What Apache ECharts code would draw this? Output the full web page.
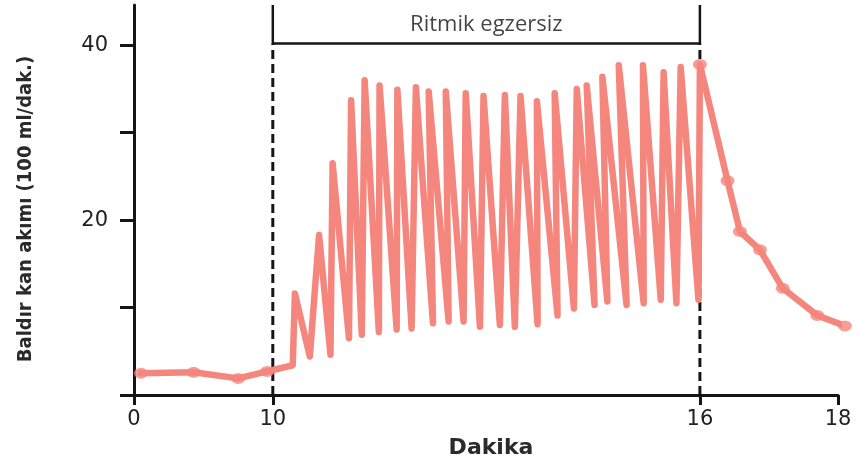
<!DOCTYPE html>
<html>
<head>
<meta charset="utf-8">
<script src="https://cdn.jsdelivr.net/npm/echarts@6/dist/echarts.min.js"></script>
<style>
  html, body { margin: 0; padding: 0; background: #fff; }
  #chart { width: 862px; height: 469px; }
</style>
</head>
<body>
<div id="chart"></div>
<script>
// ---- Data (minutes, flow in 100 ml/min) ----
const baselineMin  = [0.5, 4.3, 7.5, 9.6];
const baselineFlow = [2.5, 2.6, 1.9, 2.7];

const exerciseMin = [10.28, 10.31, 10.52, 10.65, 10.81, 10.84, 11.07, 11.10, 11.25, 11.29,
  11.49, 11.50, 11.74, 11.75, 11.95, 12.01, 12.25, 12.19, 12.47, 12.43,
  12.68, 12.71, 12.91, 12.96, 13.19, 13.26, 13.40, 13.48, 13.72, 13.71,
  14.00, 13.96, 14.23, 14.27, 14.52, 14.41, 14.70, 14.63, 14.97, 14.86,
  15.21, 15.20, 15.45, 15.49, 15.67, 15.73, 15.98];
const exerciseFlow = [3.4, 11.6, 4.4, 18.3, 4.6, 26.5, 6.5, 33.7, 6.9, 36.0,
  7.2, 35.4, 7.5, 34.9, 7.6, 35.2, 8.2, 34.7, 8.4, 34.7,
  8.4, 34.5, 7.8, 34.2, 8.0, 34.3, 7.8, 34.2, 8.1, 33.6,
  9.1, 34.5, 9.9, 35.0, 10.3, 35.4, 10.7, 36.4, 10.3, 37.7,
  10.5, 37.7, 10.9, 36.9, 10.5, 37.5, 10.9];

const recoveryMin  = [16.0, 16.4, 16.58, 16.87, 17.2, 17.7, 18.1];
const recoveryFlow = [37.8, 24.5, 18.7, 16.6, 12.2, 9.1, 7.9];

const xTickMinutes = [0, 10, 16, 18];
const xTickLabels  = ['0', '10', '16', '18'];
const yTickValues  = [0, 10, 20, 30, 40];
const yLabelValues = [20, 40];

const phaseStart = 10, phaseEnd = 16, phaseLevel = 40.2;
const phaseLabel = 'Ritmik egzersiz';
const yMax = 44.6;

// Piecewise (broken) time scale: the 0-10 min segment is drawn compressed
const timeSegments = [[0, 10, 0.195], [10, 16, 1], [16, Infinity, 0.97]];
function axisPos(m) {
  let u = 0;
  for (const [a, b, s] of timeSegments) {
    if (m <= a) break;
    u += (Math.min(m, b) - a) * s;
  }
  return u;
}

const pts = (mins, vals) => mins.map((m, i) => [axisPos(m), vals[i]]);
const fullLine = pts(baselineMin, baselineFlow)
  .concat(pts(exerciseMin, exerciseFlow))
  .concat(pts(recoveryMin, recoveryFlow));
const markers = pts(baselineMin, baselineFlow).concat(pts(recoveryMin, recoveryFlow));

const PINK = '#F4867D';
const INK = '#151515';
const tickFont = "'DejaVu Sans', sans-serif";

const chart = echarts.init(document.getElementById('chart'), null, { renderer: 'canvas' });
chart.setOption({
  animation: false,
  backgroundColor: '#ffffff',
  grid: { left: 134, right: 24, top: 5, bottom: 74, containLabel: false },
  xAxis: {
    type: 'value',
    min: 0,
    max: axisPos(18),
    splitLine: { show: false },
    axisLine: { show: true, lineStyle: { color: INK, width: 3 } },
    axisTick: { show: true, length: 10, customValues: xTickMinutes.map(axisPos), lineStyle: { color: INK, width: 3 } },
    axisLabel: {
      customValues: xTickMinutes.map(axisPos),
      formatter: function (v) {
        let best = 0, d = Infinity;
        xTickMinutes.forEach((m, i) => { const dd = Math.abs(axisPos(m) - v); if (dd < d) { d = dd; best = i; } });
        return xTickLabels[best];
      },
      fontSize: 21, fontFamily: tickFont, color: '#222', margin: 14
    },
    name: 'Dakika',
    nameLocation: 'middle',
    nameGap: 42,
    nameTextStyle: { fontSize: 22, fontWeight: 'bold', fontFamily: "'DejaVu Sans', sans-serif", color: '#2a2a2a', padding: [0, 0, 0, 10] }
  },
  yAxis: {
    type: 'value',
    min: 0,
    max: yMax,
    splitLine: { show: false },
    axisLine: { show: true, lineStyle: { color: INK, width: 3 } },
    axisTick: { show: true, length: 14, customValues: yTickValues, lineStyle: { color: INK, width: 3 } },
    axisLabel: { customValues: yLabelValues, fontSize: 21, fontFamily: tickFont, color: '#222', margin: 26 },
    name: 'Baldır kan akımı (100 ml/dak.)',
    nameLocation: 'middle',
    nameGap: 98,
    nameRotate: 90,
    nameTextStyle: { fontSize: 20, fontWeight: 'bold', fontFamily: "'Liberation Sans Narrow', 'DejaVu Sans Condensed', sans-serif", color: '#2a2a2a', padding: [0, 18, 0, 0] }
  },
  series: [
    {
      type: 'line', silent: true, symbol: 'none', z: 2,
      data: [[axisPos(phaseStart), 0], [axisPos(phaseStart), phaseLevel]],
      lineStyle: { color: INK, width: 3, type: [9, 5] }
    },
    {
      type: 'line', silent: true, symbol: 'none', z: 2,
      data: [[axisPos(phaseEnd), 0], [axisPos(phaseEnd), phaseLevel]],
      lineStyle: { color: INK, width: 3, type: [9, 5] }
    },
    {
      type: 'line', silent: true, symbol: 'none', z: 2,
      data: [[axisPos(phaseStart), yMax], [axisPos(phaseStart), phaseLevel], [axisPos(phaseEnd), phaseLevel], [axisPos(phaseEnd), yMax]],
      lineStyle: { color: INK, width: 2.5 }
    },
    {
      type: 'scatter', silent: true, symbolSize: 0, z: 3,
      data: [[axisPos((phaseStart + phaseEnd) / 2), phaseLevel]],
      label: { show: true, position: 'top', distance: 8, formatter: phaseLabel,
        fontSize: 22, fontFamily: "'Open Sans', sans-serif", color: '#151515' }
    },
    {
      type: 'line', silent: true, symbol: 'none', clip: false, z: 4,
      data: fullLine,
      lineStyle: { color: PINK, width: 6.5, join: 'round', cap: 'round' }
    },
    {
      type: 'scatter', silent: true, clip: false, z: 5,
      data: markers,
      symbol: 'circle', symbolSize: [14, 11],
      itemStyle: { color: PINK }
    }
  ]
});
</script>
</body>
</html>
